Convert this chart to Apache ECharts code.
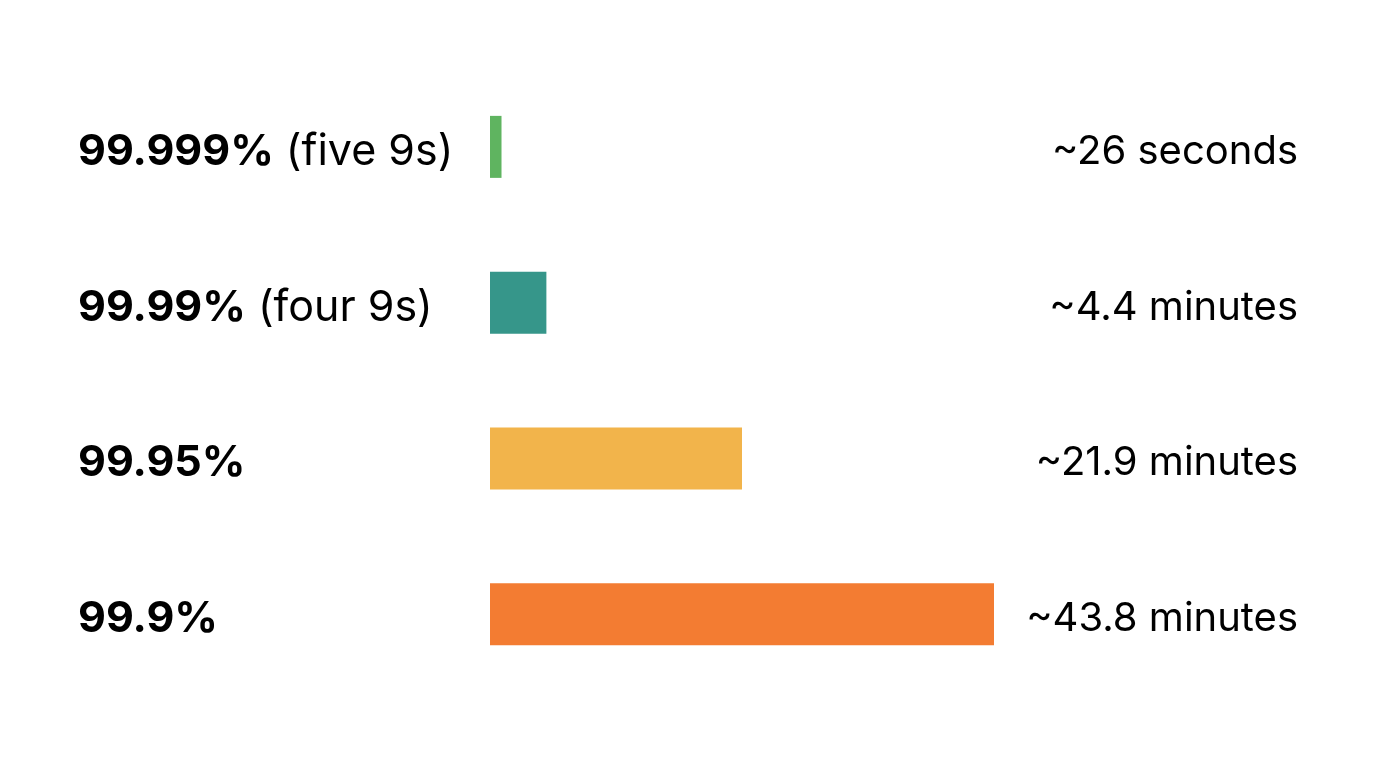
<!DOCTYPE html>
<html><head><meta charset="utf-8">
<script src="https://cdn.jsdelivr.net/npm/echarts@6/dist/echarts.min.js"></script>
<style>html,body{margin:0;padding:0;background:#fff}#c{width:1376px;height:768px}</style>
</head><body><div id="c"></div>
<script>
const levels = ['99.999%', '99.99%', '99.95%', '99.9%'];
const notes = ['(five 9s)', '(four 9s)', '', ''];
const barValues = [1.0, 4.9, 21.9, 43.8];
const downtimeLabels = ['~26 seconds', '~4.4 minutes', '~21.9 minutes', '~43.8 minutes'];
const colors = ['#5fb460', '#36968a', '#f2b44b', '#f37c32'];

const chart = echarts.init(document.getElementById('c'), null, {renderer: 'canvas'});
chart.setOption({
  backgroundColor: '#ffffff',
  animation: false,
  textStyle: {fontFamily: 'Inter'},
  grid: {left: 490, right: 382, top: 69, bottom: 76},
  xAxis: {type: 'value', min: 0, max: 43.8, show: false},
  yAxis: [{
    type: 'category', data: levels, inverse: true, position: 'left',
    axisLine: {show: false}, axisTick: {show: false}, splitLine: {show: false},
    axisLabel: {
      align: 'left', margin: 412, padding: [10, 0, 0, 0],
      formatter: (v, i) => notes[i] ? '{b|' + v + '}{r|' + notes[i] + '}' : '{b|' + v + '}',
      rich: {
        b: {fontFamily: 'Inter', fontWeight: 'bold', fontSize: 43, color: '#000'},
        r: {fontFamily: 'Inter', fontWeight: 'normal', fontSize: 43, color: '#000', padding: [0, 0, 0, 12]}
      }
    }
  }, {
    type: 'category', data: downtimeLabels, inverse: true, position: 'right',
    axisLine: {show: false}, axisTick: {show: false}, splitLine: {show: false},
    axisLabel: {
      align: 'right', margin: 304, padding: [10, 0, 0, 0],
      formatter: v => '{t|' + v + '}',
      rich: {t: {fontFamily: 'Inter', fontSize: 40, color: '#000'}}
    }
  }],
  series: [{
    type: 'bar', yAxisIndex: 0, barWidth: 62,
    data: barValues.map((v, i) => ({value: v, itemStyle: {color: colors[i]}}))
  }]
});
</script></body></html>
